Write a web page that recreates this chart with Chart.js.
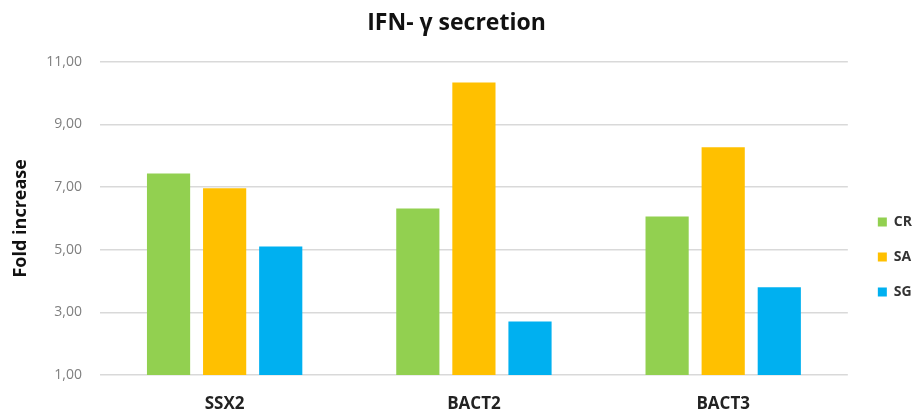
<!DOCTYPE html>
<html>
<head>
<meta charset="utf-8">
<script src="https://cdn.jsdelivr.net/npm/chart.js@4"></script>
<style>
  html, body { margin: 0; padding: 0; background: #fff; }
  #wrap { width: 919px; height: 414px; }
</style>
</head>
<body>
<div id="wrap"><canvas id="ifnChart"></canvas></div>
<script>
const categories = ['SSX2', 'BACT2', 'BACT3'];
const seriesNames = ['CR', 'SA', 'SG'];
const crValues = [7.43, 6.31, 6.06];
const saValues = [6.96, 10.33, 8.27];
const sgValues = [5.10, 2.71, 3.80];
const yTicks = [1, 3, 5, 7, 9, 11];

const colors = ['#92D050', '#FFC000', '#00B0F0'];
const fontFamily = '"Open Sans", sans-serif';

// nudge the legend down/right next to the plot
const legendShift = {
    id: 'legendShift',
    afterLayout(chart) {
        const lg = chart.legend;
        lg.left += 9; lg.right += 9;
        lg.top += 50; lg.bottom += 50;
    }
};

const config = {
    type: 'bar',
    data: {
        labels: categories,
        datasets: [crValues, saValues, sgValues].map((vals, i) => ({
            label: seriesNames[i],
            data: vals,
            backgroundColor: colors[i],
            barPercentage: 0.77,
            categoryPercentage: 0.675
        }))
    },
    options: {
        responsive: true,
        maintainAspectRatio: false,
        animation: false,
        layout: { padding: { right: 6 } },
        plugins: {
            title: {
                display: true,
                text: 'IFN- γ secretion',
                color: '#111',
                font: { family: fontFamily, size: 23, weight: 'bold' },
                padding: { top: 10, bottom: 24 }
            },
            legend: {
                position: 'right',
                labels: {
                    boxWidth: 9,
                    boxHeight: 9,
                    padding: 21,
                    color: '#333',
                    font: { family: fontFamily, size: 14, weight: 'bold' }
                }
            },
            tooltip: { enabled: false }
        },
        scales: {
            x: {
                grid: { display: false },
                border: { display: false },
                ticks: {
                    color: '#222',
                    padding: 11,
                    font: { family: fontFamily, size: 17, weight: 'bold' }
                },
                afterFit(scale) { scale.height = 39; }
            },
            y: {
                min: 1,
                max: 11,
                afterBuildTicks(scale) {
                    scale.ticks = yTicks.map(v => ({ value: v }));
                },
                grid: { color: '#d9d9d9', lineWidth: 1.5, drawTicks: false },
                border: { display: false },
                ticks: {
                    color: '#7f7f7f',
                    padding: 18,
                    font: { family: fontFamily, size: 14 },
                    callback: v => v.toFixed(2).replace('.', ',')
                },
                title: {
                    display: true,
                    text: 'Fold increase',
                    color: '#111',
                    padding: { top: 10, bottom: 0 },
                    font: { family: fontFamily, size: 18, weight: 'bold' }
                },
                afterFit(scale) { scale.width = 100; }
            }
        }
    },
    plugins: [legendShift]
};

new Chart(document.getElementById('ifnChart'), config);
</script>
</body>
</html>
